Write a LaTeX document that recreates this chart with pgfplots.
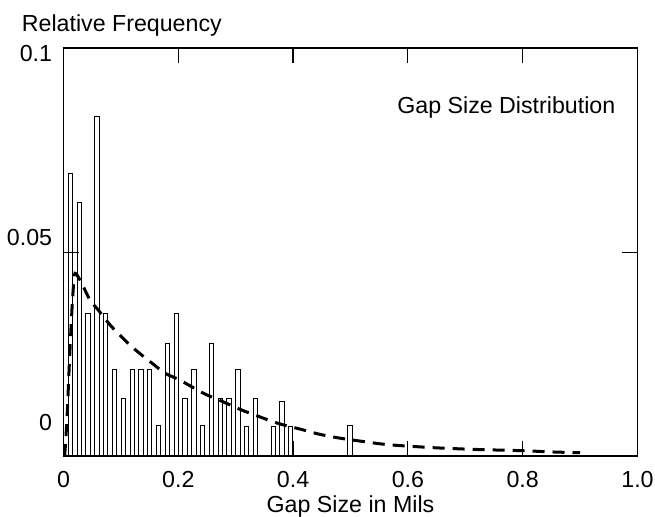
\documentclass[border=0pt]{standalone}
\usepackage{fontspec}
\setmainfont{Liberation Sans}
\usepackage{pgfplots}
\pgfplotsset{compat=1.18}
\begin{document}
\fontsize{11.6}{13.9}\selectfont
\begin{tikzpicture}
\begin{axis}[
  name=ax,
  scale only axis,
  width=287pt, height=203.85pt,
  xmin=0, xmax=1, ymin=0, ymax=0.1,
  axis on top,
  clip=false,
  axis line style={line width=0.9pt},
  tick align=inside,
  major tick length=7.5pt,
  tick style={line width=0.6pt, black},
  xtick={0,0.2,0.4,0.6,0.8,1},
  xticklabels={0,0.2,0.4,0.6,0.8,1.0},
  xticklabel style={inner sep=0pt, anchor=north, yshift=-7.5pt},
  ytick={0.05}, yticklabels={},
  extra y ticks={0.0083,0.0537,0.0988},
  extra y tick labels={0,0.05,0.1},
  extra y tick style={major tick length=0pt, yticklabel style={anchor=east, inner sep=0pt, xshift=-5.5pt}},
  /pgf/number format/assume math mode=true,
  xlabel={Gap Size in Mils},
  xlabel style={at={(axis description cs:0.5,0)}, anchor=base, inner sep=0pt, yshift=-28pt},
]
\addplot[ybar, bar width=0.0075, draw=black, line width=0.5pt, fill=white] coordinates {
(0.0122,0.0692) (0.0276,0.0622) (0.0429,0.0349) (0.0583,0.0832) (0.0736,0.0349)
(0.0890,0.0211) (0.1043,0.0140) (0.1197,0.0211) (0.1350,0.0211) (0.1504,0.0211)
(0.1657,0.0076) (0.1811,0.0276) (0.1964,0.0349) (0.2118,0.0140) (0.2271,0.0211)
(0.2425,0.0076) (0.2578,0.0276) (0.2732,0.0140) (0.2885,0.0140) (0.3039,0.0211)
(0.3192,0.0073) (0.3346,0.0140) (0.3653,0.0073) (0.3806,0.0134) (0.3960,0.0072)
(0.4990,0.0074)
};
\addplot[black, line width=1.5pt, dash pattern=on 6pt off 4pt, smooth] coordinates {
(0.002,0) (0.004,0.004) (0.007,0.012) (0.010,0.022) (0.014,0.034) (0.017,0.041)
(0.020,0.0448) (0.0305,0.0427) (0.046,0.0383) (0.0606,0.0358) (0.084,0.0317)
(0.119,0.0268) (0.154,0.0228) (0.177,0.0203) (0.203,0.0186) (0.2436,0.0154)
(0.278,0.0133) (0.310,0.0113) (0.342,0.0096) (0.374,0.0080) (0.415,0.0065)
(0.447,0.0053) (0.485,0.0043) (0.525,0.0035) (0.557,0.0029) (0.592,0.0025)
(0.65,0.0020) (0.72,0.0016) (0.80,0.0013) (0.85,0.0010) (0.90,0.0008)
};
\node[anchor=base west, inner sep=0pt, xshift=-21pt, yshift=8.5pt] at (rel axis cs:0,1) {Relative Frequency};
\node[anchor=base east, inner sep=0pt] at (rel axis cs:0.962,0.8406) {Gap Size Distribution};
\end{axis}
\pgfresetboundingbox
\path[use as bounding box] ([xshift=-31.75pt,yshift=-30pt]ax.south west) rectangle ([xshift=295.75pt,yshift=228pt]ax.south west);
\end{tikzpicture}
\end{document}
